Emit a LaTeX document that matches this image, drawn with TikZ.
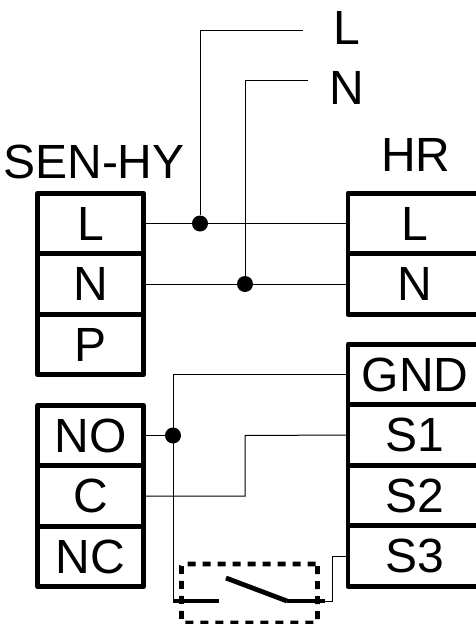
\documentclass[tikz,border=0pt]{standalone}
\usepackage{fontspec}
\setmainfont{Liberation Sans}
\usetikzlibrary{positioning}
\tikzstyle{cell} = [rectangle, draw=black, line width=4.8pt, line join=round, fill=none, text=black, text centered, font=\fontsize{48}{48}\selectfont, text height=33.5pt, text depth=0pt, inner sep=0pt, outer sep=0pt, minimum height=60.5pt]
\tikzstyle{sencell} = [cell, minimum width=106pt]
\tikzstyle{hrcell} = [cell, minimum width=134pt]
\tikzstyle{title} = [text=black, font=\fontsize{48}{48}\selectfont, text height=33.5pt, text depth=0pt, inner sep=0pt, outer sep=0pt]
\tikzstyle{junction} = [circle, fill=black, draw=none, inner sep=0pt, minimum size=16pt]
\tikzstyle{wire} = [draw, line width=1pt]
\tikzstyle{contact} = [draw, line width=4.8pt]
\tikzstyle{swbox} = [rectangle, draw=black, line width=4.8pt, rounded corners=2pt, dash pattern=on 8pt off 7pt, inner sep=0pt, outer sep=0pt, minimum width=136pt, minimum height=59pt]

\begin{document}
\begin{tikzpicture}[x=1pt, y=1pt]

\useasboundingbox (0,0) rectangle (475,-624);

% blocks =============================

% SEN-HY power
\node[sencell] (senL) at (90.5,-223.5) {L};
\node[sencell, below=0pt of senL] (senN) {N};
\node[sencell, below=0pt of senN] (senP) {P};

% SEN-HY relay
\node[sencell] (senNO) at (90.5,-435.5) {NO};
\node[sencell, below=0pt of senNO] (senC) {C};
\node[sencell, below=0pt of senC] (senNC) {NC};

% HR power
\node[hrcell] (hrL) at (415,-223.5) {L};
\node[hrcell, below=0pt of hrL] (hrN) {N};

% HR inputs
\node[hrcell] (hrGND) at (415,-374.5) {GND};
\node[hrcell, below=0pt of hrGND] (hrS1) {S1};
\node[hrcell, below=0pt of hrS1] (hrS2) {S2};
\node[hrcell, below=0pt of hrS2] (hrS3) {S3};

% labels
\node[title] (senT) at (94,-161.5) {SEN-HY};
\node[title] (hrT) at (416,-154.5) {HR};
\node[title] (lineL) at (347,-28) {L};
\node[title] (lineN) at (347,-87.5) {N};

% mains ends
\coordinate (endL) at (303,-30);
\coordinate (endN) at (308,-80);

% junctions
\node[junction] (dotL) at (200,-223.5) {};
\node[junction] (dotN) at (245,-284) {};
\node[junction] (dotNO) at (173,-435.5) {};

% switch
\node[swbox] (swB) at (249.5,-593.5) {};
\coordinate (swA) at (173,-601);
\coordinate (swC) at (219,-601);
\coordinate (swD) at (226,-578);
\coordinate (swE) at (287,-601);
\coordinate (swF) at (325,-601);
\coordinate (swG) at (332,-601);
\coordinate (stepC) at (245,-435.5);

% edges =============================

\path[wire] (senL.east) -- (hrL.west);
\path[wire] (senN.east) -- (hrN.west);

\path[wire] (endL) -| (dotL);
\path[wire] (endN) -| (dotN);

\path[wire] (senNO.east) -- (dotNO);
\path[wire] (hrGND.west) -| (swA);
\path[wire] (senC.east) -| (stepC) -- (hrS1.west);
\path[wire] (hrS3.west) -| (swG) -- (swF);

% contacts
\path[contact] (swA) -- (swC);
\path[contact] (swD) -- (swE);
\path[contact] (swE) -- (swF);

\end{tikzpicture}
\end{document}
